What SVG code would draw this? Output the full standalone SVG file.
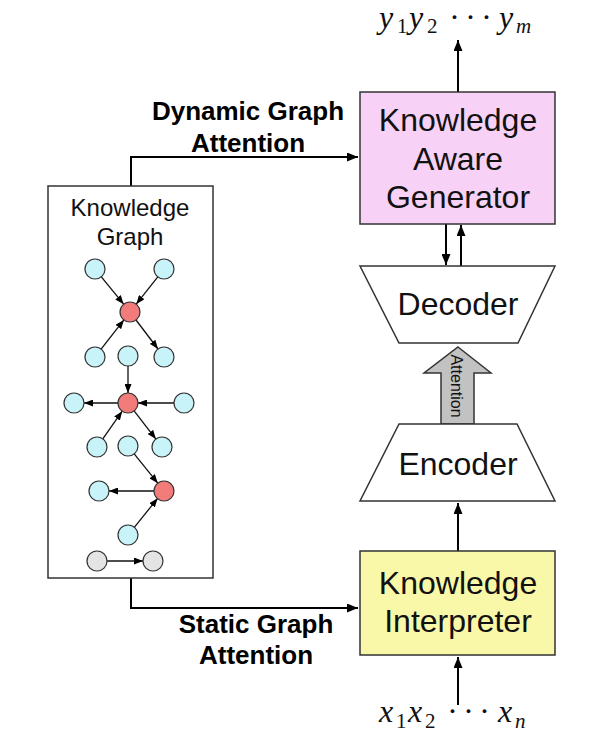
<svg xmlns="http://www.w3.org/2000/svg" width="614" height="739" viewBox="0 0 614 739">
<defs>
<marker id="ah" markerUnits="userSpaceOnUse" markerWidth="11" markerHeight="9" refX="11" refY="4.5" orient="auto"><path d="M0,0 L11,4.5 L0,9 z" fill="#000"/></marker>
<marker id="sh" markerUnits="userSpaceOnUse" markerWidth="9" markerHeight="7" refX="9" refY="3.5" orient="auto"><path d="M0,0 L9,3.5 L0,7 z" fill="#000"/></marker>
</defs>
<style>
.lbl{font-family:"Liberation Sans",Arial,sans-serif;font-size:32px;fill:#111;text-anchor:middle}
.bold{font-family:"Liberation Sans",Arial,sans-serif;font-size:26px;font-weight:bold;fill:#000;text-anchor:middle}
.math{font-family:"Liberation Serif","Times New Roman",serif;font-size:32px;font-style:italic;fill:#111}
.sub{font-style:normal;font-size:21px}
.subi{font-style:italic;font-size:21px}
.box{stroke:#333;stroke-width:1.5}
.conn{stroke:#000;stroke-width:2;fill:none}
.edge{stroke:#111;stroke-width:1.3;fill:none}
.cy{fill:#c8f3f8;stroke:#333;stroke-width:1.2}
.rd{fill:#f27c7a;stroke:#333;stroke-width:1.2}
.gy{fill:#e4e4e4;stroke:#333;stroke-width:1.2}
</style>
<rect width="614" height="739" fill="#fff"/>

<g id="connectors">
<path class="conn" d="M131,186 V157 H358" marker-end="url(#ah)"/>
<path class="conn" d="M131,578 V608 H358" marker-end="url(#ah)"/>
<path class="conn" d="M458,92 V40" marker-end="url(#ah)"/>
<path class="conn" d="M446,224 V265" marker-end="url(#ah)"/>
<path class="conn" d="M461,266 V225" marker-end="url(#ah)"/>
<path class="conn" d="M458,551 V503" marker-end="url(#ah)"/>
<path class="conn" d="M458,705 V657" marker-end="url(#ah)"/>
</g>

<g id="output-label">
<text class="math" y="28"><tspan x="379">y</tspan><tspan class="sub" x="397" dy="5">1</tspan><tspan x="409" dy="-5">y</tspan><tspan class="sub" x="427" dy="5">2</tspan><tspan x="450" dy="-5">·</tspan><tspan x="466">·</tspan><tspan x="482">·</tspan><tspan x="499">y</tspan><tspan class="subi" x="516" dy="5">m</tspan></text>
</g>

<g id="input-label">
<text class="math" y="722"><tspan x="379">x</tspan><tspan class="sub" x="396" dy="6">1</tspan><tspan x="408" dy="-6">x</tspan><tspan class="sub" x="425" dy="6">2</tspan><tspan x="448" dy="-6">·</tspan><tspan x="464">·</tspan><tspan x="480">·</tspan><tspan x="498">x</tspan><tspan class="subi" x="515" dy="6">n</tspan></text>
</g>

<g id="dynamic-label">
<text class="bold" x="248" y="120">Dynamic Graph</text>
<text class="bold" x="248" y="152">Attention</text>
</g>

<g id="static-label">
<text class="bold" x="256" y="633">Static Graph</text>
<text class="bold" x="256" y="664">Attention</text>
</g>

<g id="generator">
<rect class="box" x="360" y="92" width="195" height="132" fill="#f7d2f6"/>
<text class="lbl" x="458" y="131">Knowledge</text>
<text class="lbl" x="458" y="170">Aware</text>
<text class="lbl" x="458" y="208">Generator</text>
</g>

<g id="decoder">
<polygon class="box" points="360,266 555,266 518,343 399,343" fill="#fff"/>
<text class="lbl" x="458" y="315">Decoder</text>
</g>

<g id="attention-arrow">
<polygon class="box" points="458,347 491,373 474,373 474,424 441,424 441,373 424,373" fill="#c2c2c2" stroke-width="1.2"/>
<text transform="translate(451,386) rotate(90)" text-anchor="middle" font-family="Liberation Sans,Arial,sans-serif" font-size="16" fill="#111">Attention</text>
</g>

<g id="encoder">
<polygon class="box" points="399,424 517,424 555,501 360,501" fill="#fff"/>
<text class="lbl" x="458" y="475">Encoder</text>
</g>

<g id="interpreter">
<rect class="box" x="360" y="551" width="195" height="104" fill="#f9f8a8"/>
<text class="lbl" x="458" y="594">Knowledge</text>
<text class="lbl" x="458" y="632">Interpreter</text>
</g>

<g id="knowledge-graph">
<rect x="48" y="186" width="165" height="392" fill="#fff" stroke="#333" stroke-width="1.5"/>
<text x="130" y="216" text-anchor="middle" font-family="Liberation Sans,Arial,sans-serif" font-size="24" fill="#111">Knowledge</text>
<text x="130" y="245" text-anchor="middle" font-family="Liberation Sans,Arial,sans-serif" font-size="24" fill="#111">Graph</text>
<g id="kg-edges">
<line class="edge" x1="101.3" y1="276.8" x2="123.7" y2="304.2" marker-end="url(#sh)"/>
<line class="edge" x1="157.8" y1="276.8" x2="136.2" y2="304.2" marker-end="url(#sh)"/>
<line class="edge" x1="101.1" y1="349.1" x2="123.9" y2="319.9" marker-end="url(#sh)"/>
<line class="edge" x1="136" y1="320" x2="158" y2="349" marker-end="url(#sh)"/>
<line class="edge" x1="128" y1="366" x2="128" y2="393" marker-end="url(#sh)"/>
<line class="edge" x1="118" y1="403" x2="84" y2="403" marker-end="url(#sh)"/>
<line class="edge" x1="174" y1="403" x2="138" y2="403" marker-end="url(#sh)"/>
<line class="edge" x1="102.8" y1="438.8" x2="122.2" y2="411.2" marker-end="url(#sh)"/>
<line class="edge" x1="134.1" y1="410.9" x2="155.9" y2="439.1" marker-end="url(#sh)"/>
<line class="edge" x1="134.2" y1="453.8" x2="157.8" y2="483.2" marker-end="url(#sh)"/>
<line class="edge" x1="154" y1="491" x2="109" y2="491" marker-end="url(#sh)"/>
<line class="edge" x1="134.3" y1="527.3" x2="157.7" y2="498.3" marker-end="url(#sh)"/>
<line class="edge" x1="107" y1="561" x2="143" y2="561" marker-end="url(#sh)"/>
</g>
<g id="kg-nodes">
<circle class="cy" cx="95" cy="269" r="10"/>
<circle class="cy" cx="164" cy="269" r="10"/>
<circle class="rd" cx="130" cy="312" r="10"/>
<circle class="cy" cx="95" cy="357" r="10"/>
<circle class="cy" cx="128" cy="356" r="10"/>
<circle class="cy" cx="164" cy="357" r="10"/>
<circle class="rd" cx="128" cy="403" r="10"/>
<circle class="cy" cx="74" cy="403" r="10"/>
<circle class="cy" cx="184" cy="403" r="10"/>
<circle class="cy" cx="97" cy="447" r="10"/>
<circle class="cy" cx="128" cy="446" r="10"/>
<circle class="cy" cx="162" cy="447" r="10"/>
<circle class="rd" cx="164" cy="491" r="10"/>
<circle class="cy" cx="99" cy="491" r="10"/>
<circle class="cy" cx="128" cy="535" r="10"/>
<circle class="gy" cx="97" cy="561" r="10"/>
<circle class="gy" cx="153" cy="561" r="10"/>
</g>
</g>
</svg>
